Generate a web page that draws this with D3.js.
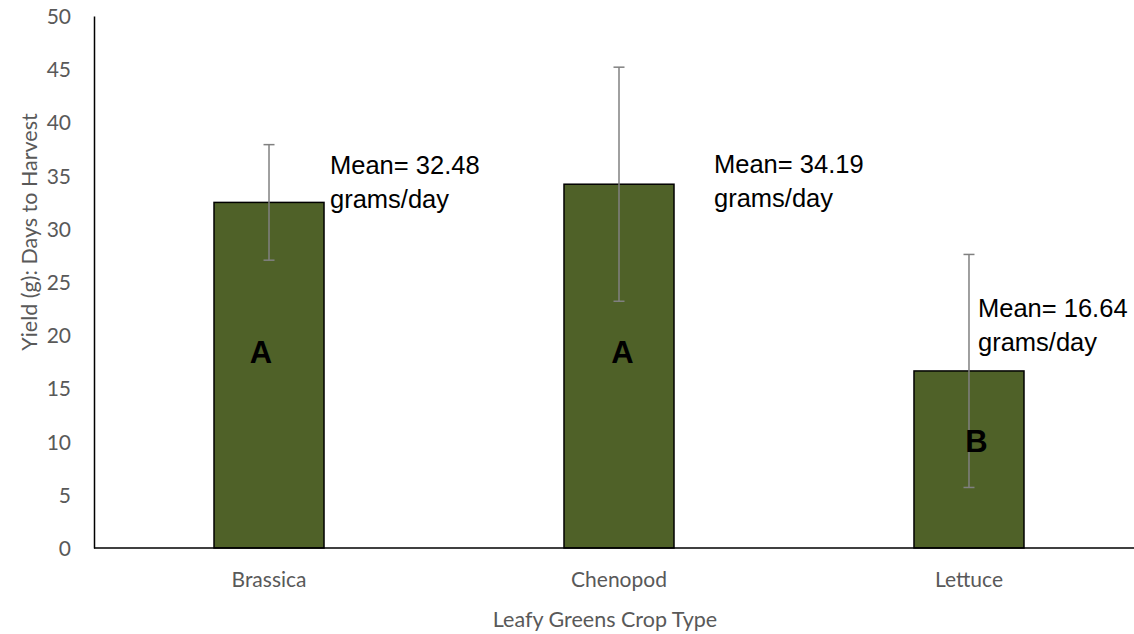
<!DOCTYPE html>
<html>
<head>
<meta charset="utf-8">
<script src="https://cdn.jsdelivr.net/npm/d3@7"></script>
<style>
  body { margin: 0; background: #fff; }
  svg { display: block; }
</style>
</head>
<body>
<svg id="chart" width="1134" height="634"></svg>
<script>
// data
var crops = ["Brassica", "Chenopod", "Lettuce"];
var means = [32.48, 34.19, 16.64];
var errs = [5.43, 11.0, 10.95];
var groups = ["A", "A", "B"];
var yTicks = [0, 5, 10, 15, 20, 25, 30, 35, 40, 45, 50];

var svg = d3.select("#chart"),
  width = +svg.attr("width"),
  height = +svg.attr("height");

// note: "top" is taken by window.top, so plot edges get their own names
var plotLeft = 94, plotRight = 1144, plotTop = 16, plotBottom = 548;
var grey = "#595959";
var calibri = "Lato, Carlito, Calibri, sans-serif";
var arial = "'Liberation Sans', Arial, sans-serif";

var x = d3.scaleBand()
  .domain(crops)
  .range([plotLeft, plotRight])
  .paddingInner(0.6857)
  .paddingOuter(0.3429);

var y = d3.scaleLinear()
  .domain([0, 50])
  .range([plotBottom, plotTop]);

// y axis: only labels + the line
var yAxis = svg.append("g")
  .attr("transform", "translate(" + plotLeft + ",0)")
  .call(d3.axisLeft(y).tickValues(yTicks).tickSize(0).tickPadding(23));
yAxis.select(".domain").attr("stroke", "#000").attr("stroke-width", 1.5);
yAxis.selectAll("text")
  .attr("fill", grey)
  .style("font-family", calibri)
  .style("font-size", "21px")
  .attr("dy", "0.36em");

//bars
var bars = svg.append("g").selectAll("rect")
  .data(crops)
  .enter().append("rect")
  .attr("x", function (d) { return x(d); })
  .attr("y", function (d, i) { return y(means[i]); })
  .attr("width", x.bandwidth())
  .attr("height", function (d, i) { return y(0) - y(means[i]); })
  .attr("fill", "#4F6128")
  .attr("stroke", "#000")
  .attr("stroke-width", 1.5);

// error bars
var cap = 5.5;
var eb = svg.append("g")
  .attr("stroke", "#808080")
  .attr("stroke-width", 1.5)
  .selectAll("g")
  .data(crops)
  .enter().append("g");

eb.append("line")
  .attr("x1", function (d) { return x(d) + x.bandwidth() / 2; })
  .attr("x2", function (d) { return x(d) + x.bandwidth() / 2; })
  .attr("y1", function (d, i) { return y(means[i] - errs[i]); })
  .attr("y2", function (d, i) { return y(means[i] + errs[i]); });
eb.append("line")
  .attr("x1", function (d) { return x(d) + x.bandwidth() / 2 - cap; })
  .attr("x2", function (d) { return x(d) + x.bandwidth() / 2 + cap; })
  .attr("y1", function (d, i) { return y(means[i] + errs[i]); })
  .attr("y2", function (d, i) { return y(means[i] + errs[i]); });
eb.append("line")
  .attr("x1", function (d) { return x(d) + x.bandwidth() / 2 - cap; })
  .attr("x2", function (d) { return x(d) + x.bandwidth() / 2 + cap; })
  .attr("y1", function (d, i) { return y(means[i] - errs[i]); })
  .attr("y2", function (d, i) { return y(means[i] - errs[i]); });

// x axis drawn after bars so it sits on top
var xAxis = svg.append("g")
  .attr("transform", "translate(0," + plotBottom + ")")
  .call(d3.axisBottom(x).tickSize(0).tickPadding(24));
xAxis.select(".domain")
  .attr("d", "M" + plotLeft + ",0H" + width)
  .attr("stroke", "#000").attr("stroke-width", 1.5);
xAxis.selectAll("text")
  .attr("fill", grey)
  .style("font-family", calibri)
  .style("font-size", "21px");

// significance letters (hand placed inside the bars like the original)
var letterDx = [-8, 3.5, 7.5];
var letterVal = [18.4, 18.4, 10.1];
svg.append("g").selectAll("text")
  .data(groups)
  .enter().append("text")
  .attr("x", function (d, i) { return x(crops[i]) + x.bandwidth() / 2 + letterDx[i]; })
  .attr("y", function (d, i) { return y(letterVal[i]); })
  .attr("dy", "0.36em")
  .attr("text-anchor", "middle")
  .style("font-family", arial)
  .style("font-weight", "bold")
  .style("font-size", "31px")
  .attr("fill", "#000")
  .text(function (d) { return d; });

// mean text boxes, offsets from bar centre / bar top
var noteDx = [61, 95, 9];
var noteDy = [-28, -11, -54];
var notes = svg.append("g").selectAll("text")
  .data(crops)
  .enter().append("text")
  .attr("x", function (d, i) { return x(d) + x.bandwidth() / 2 + noteDx[i]; })
  .attr("y", function (d, i) { return y(means[i]) + noteDy[i]; })
  .style("font-family", arial)
  .style("font-size", "25.5px")
  .attr("fill", "#000");
notes.append("tspan")
  .text(function (d, i) { return "Mean= " + means[i].toFixed(2); });
notes.append("tspan")
  .attr("x", function (d, i) { return x(d) + x.bandwidth() / 2 + noteDx[i]; })
  .attr("dy", 34)
  .text("grams/day");

// axis titles
svg.append("text")
  .attr("x", 605)
  .attr("y", 627)
  .attr("text-anchor", "middle")
  .attr("fill", grey)
  .style("font-family", calibri)
  .style("font-size", "21.5px")
  .text("Leafy Greens Crop Type");

svg.append("text")
  .attr("transform", "translate(37,232) rotate(-90)")
  .attr("text-anchor", "middle")
  .attr("fill", grey)
  .style("font-family", calibri)
  .style("font-size", "21.5px")
  .text("Yield (g): Days to Harvest");
</script>
</body>
</html>
